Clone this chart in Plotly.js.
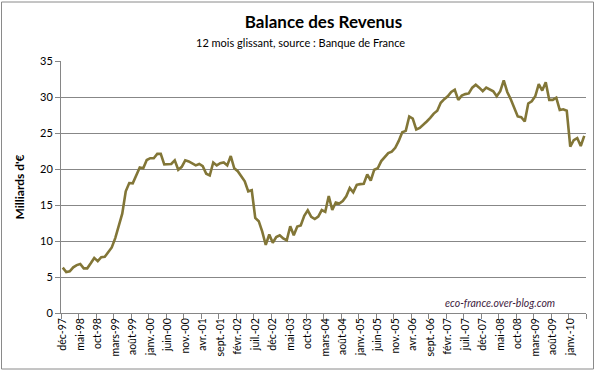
<!DOCTYPE html>
<html>
<head>
<meta charset="utf-8">
<script src="https://cdn.plot.ly/plotly-3.0.1.min.js"></script>
<style>html,body{margin:0;padding:0;background:#fff;}#chart{width:599px;height:377px;}</style>
</head>
<body>
<div id="chart"></div>
<script>
// Monthly series, déc-97 .. mai-10 (150 months), Milliards d'€
const values = [
 6.3, 5.7, 5.8, 6.35, 6.65, 6.8, 6.2, 6.2, 6.9, 7.65,
 7.2, 7.75, 7.8, 8.45, 9.1, 10.4, 12.0, 13.8, 16.9, 18.05,
 18.0, 19.05, 20.2, 20.1, 21.25, 21.5, 21.5, 22.1, 22.1, 20.65,
 20.65, 20.7, 21.2, 19.9, 20.3, 21.2, 21.05, 20.8, 20.5, 20.7,
 20.4, 19.35, 19.1, 20.9, 20.5, 20.8, 20.9, 20.5, 21.8, 20.1,
 19.7, 19.0, 18.3, 16.9, 17.05, 13.2, 12.75, 11.3, 9.45, 10.9,
 9.75, 10.55, 10.8, 10.35, 10.1, 12.05, 10.8, 12.0, 12.15, 13.5,
 14.25, 13.35, 13.05, 13.4, 14.3, 14.05, 16.25, 14.3, 15.35, 15.2,
 15.55, 16.2, 17.35, 16.75, 17.8, 17.9, 17.95, 19.25, 18.4, 19.9,
 20.1, 21.1, 21.65, 22.2, 22.4, 22.95, 23.9, 25.1, 25.3, 27.3,
 27.0, 25.5, 25.7, 26.1, 26.6, 27.1, 27.7, 28.1, 29.2, 29.7,
 30.1, 30.7, 31.0, 29.6, 30.2, 30.4, 30.5, 31.3, 31.7, 31.3,
 30.8, 31.3, 31.0, 30.8, 30.1, 30.8, 32.3, 30.7, 29.7, 28.6,
 27.3, 27.2, 26.6, 29.1, 29.4, 30.1, 31.8, 30.9, 32.05, 29.6,
 29.6, 29.9, 28.2, 28.3, 28.1, 23.1, 24.0, 24.3, 23.2, 24.6
];
// Tick labels, one every 5 months starting at déc-97
const tickLabels = [
 'déc-97','mai-98','oct-98','mars-99','août-99','janv.-00','juin-00','nov.-00',
 'avr.-01','sept.-01','févr.-02','juil.-02','déc-02','mai-03','oct-03','mars-04',
 'août-04','janv.-05','juin-05','nov.-05','avr.-06','sept.-06','févr.-07','juil.-07',
 'déc-07','mai-08','oct-08','mars-09','août-09','janv.-10'
];
const tickStep = 5;

const monthIndex = values.map((_, i) => i);
const tickVals = tickLabels.map((_, k) => k * tickStep);

const W = 599, H = 377;
const M = {l: 61, r: 13, t: 61, b: 64};
const pw = W - M.l - M.r, ph = H - M.t - M.b;
const px = x => (x - M.l) / pw;
const py = y => (H - M.b - y) / ph;

const trace = {
  x: monthIndex,
  y: values,
  type: 'scatter',
  mode: 'lines',
  line: {color: '#827637', width: 2.6},
  hoverinfo: 'skip'
};

const layout = {
  width: W, height: H,
  margin: M,
  paper_bgcolor: '#ffffff',
  plot_bgcolor: '#ffffff',
  showlegend: false,
  font: {family: 'Lato, "Liberation Sans", sans-serif', color: '#000'},
  title: {
    text: '<b>Balance des Revenus</b>',
    font: {size: 17, color: '#000', family: 'Lato, sans-serif'},
    x: 0.5, xanchor: 'center', xref: 'paper',
    y: 1 - 22 / H, yanchor: 'middle', yref: 'container'
  },
  xaxis: {
    range: [-0.5, values.length - 0.5],
    tickmode: 'array',
    tickvals: tickVals,
    ticktext: tickLabels,
    tickangle: -90,
    ticks: '',
    tickfont: {size: 10.5, color: '#000'},
    showgrid: false,
    zeroline: false,
    showline: true,
    linecolor: '#868686',
    linewidth: 1,
    minor: {tickmode: 'linear', tick0: -0.5, dtick: tickStep, ticks: 'outside', ticklen: 5, tickcolor: '#868686', showgrid: false},
    fixedrange: true
  },
  yaxis: {
    range: [0, 35],
    dtick: 5,
    tick0: 0,
    ticks: 'outside',
    ticklen: 5,
    tickcolor: '#868686',
    tickfont: {size: 11, color: '#000'},
    showgrid: true,
    gridcolor: '#878787',
    gridwidth: 1,
    zeroline: false,
    showline: true,
    linecolor: '#868686',
    linewidth: 1,
    title: {text: "<b>Milliards d'€</b>", font: {size: 12, color: '#000'}, standoff: 12},
    fixedrange: true
  },
  shapes: [
    {type: 'rect', xref: 'paper', yref: 'paper',
     x0: px(1.5), x1: px(593.5), y0: py(369), y1: py(2),
     line: {color: '#8a8a8a', width: 1}, fillcolor: 'rgba(0,0,0,0)', layer: 'below'}
  ],
  annotations: [
    {text: '12 mois glissant, source : Banque de France', xref: 'paper', yref: 'paper',
     x: px(300), y: py(42), xanchor: 'center', yanchor: 'middle', showarrow: false,
     font: {size: 11, color: '#000'}},
    {text: '<i>eco-france.over-blog.com</i>', xref: 'paper', yref: 'paper',
     x: px(500), y: py(303), xanchor: 'center', yanchor: 'middle', showarrow: false,
     font: {size: 10.5, color: '#3f1d3f'}}
  ]
};

Plotly.newPlot('chart', [trace], layout, {displayModeBar: false, staticPlot: true});
</script>
</body>
</html>
